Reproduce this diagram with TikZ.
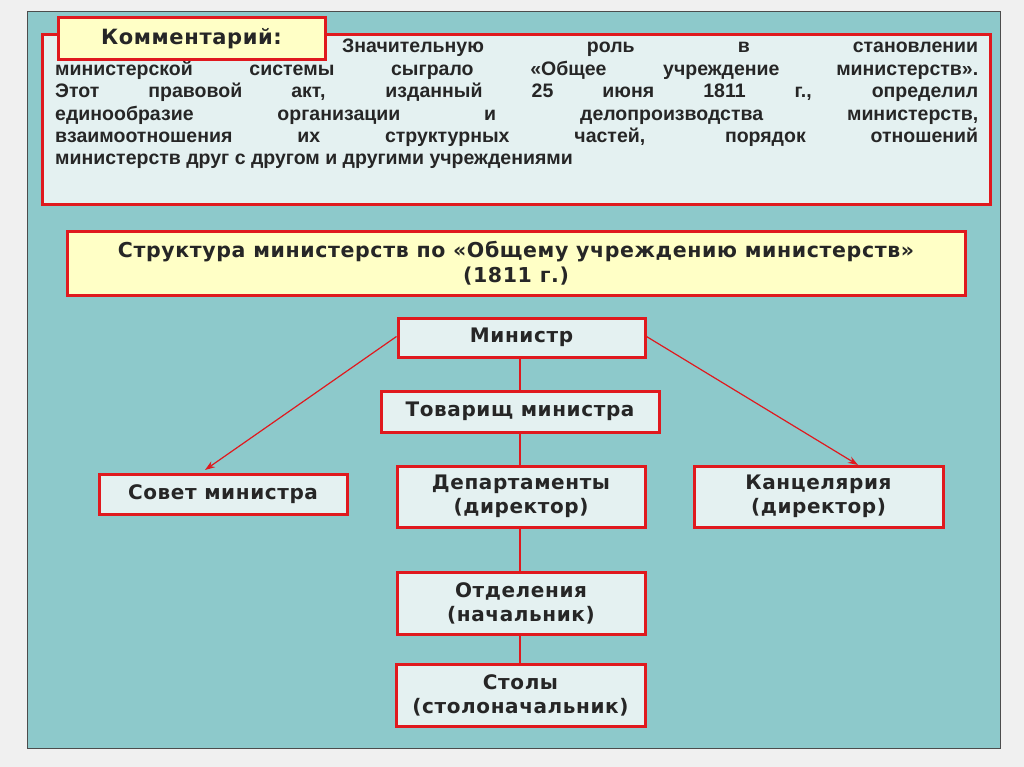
\documentclass[tikz,border=0pt]{standalone}
\usepackage{fontspec}
\setmainfont{Liberation Sans}
\newfontfamily\widefont{DejaVu Sans}[LetterSpace=3]
\usetikzlibrary{arrows.meta}
\definecolor{teal}{HTML}{8DC9CB}
\definecolor{boxfill}{HTML}{E4F1F1}
\definecolor{ylw}{HTML}{FFFFC6}
\definecolor{rd}{HTML}{E0191E}
\tikzset{
  box/.style={draw=rd,line width=3pt,fill=boxfill,align=center,font=\widefont\fontsize{20}{24}\selectfont\bfseries,text=black!85},
  link/.style={draw=rd,line width=2pt},
  arr/.style={draw=rd,line width=1.2pt,-{Stealth[length=10pt,width=7pt]}}
}
\begin{document}
\begin{tikzpicture}[x=1pt,y=-1pt]
\useasboundingbox (0,0) rectangle (1024,767);
\fill[black!6] (0,0) rectangle (1024,767);
\draw[fill=teal,draw=black!70,line width=1pt] (27,12) rectangle (1000,748);
% comment box
\draw[draw=rd,line width=3pt,fill=boxfill] (42,35) rectangle (990,205);
\node[anchor=north west,inner sep=0pt,text width=923pt,align=justify,font=\fontsize{19.5}{22.4}\selectfont\bfseries,text=black!85] (ctext) at (55,39)
{\hspace*{287pt}Значительную роль в становлении\linebreak министерской системы сыграло «Общее учреждение министерств».\linebreak Этот правовой акт, изданный 25 июня 1811 г., определил\linebreak единообразие организации и делопроизводства министерств,\linebreak взаимоотношения их структурных частей, порядок отношений\linebreak министерств друг с другом и другими учреждениями};
\draw[draw=rd,line width=3pt,fill=ylw] (58,18) rectangle (325,60);
\node[font=\widefont\fontsize{21}{25}\selectfont\bfseries,text=black!85] (clabel) at (191.5,39) {Комментарий:};
% title
\node[draw=rd,line width=3pt,fill=ylw,minimum width=898pt,minimum height=63pt,align=center,font=\widefont\fontsize{20.5}{25}\selectfont\bfseries,text=black!85] (title) at (516,263.5) {Структура министерств по «Общему учреждению министерств»\\(1811 г.)};
% nodes
\node[box,minimum width=247pt,minimum height=39pt] (min) at (521.5,337.5) {Министр};
\node[box,minimum width=278pt,minimum height=41pt] (tov) at (520,411.5) {Товарищ министра};
\node[box,minimum width=248pt,minimum height=40pt] (sov) at (223,494) {Совет министра};
\node[box,minimum width=248pt,minimum height=61pt] (dep) at (521,496.5) {Департаменты\\(директор)};
\node[box,minimum width=249pt,minimum height=61pt] (kan) at (818.5,496.5) {Канцелярия\\(директор)};
\node[box,minimum width=248pt,minimum height=62pt] (otd) at (521,603) {Отделения\\(начальник)};
\node[box,minimum width=249pt,minimum height=62pt] (sto) at (520.5,695) {Столы\\(столоначальник)};
% links
\draw[link] (min.south -| 520,0) -- (tov.north -| 520,0);
\draw[link] (tov.south -| 520,0) -- (dep.north -| 520,0);
\draw[link] (dep.south -| 520,0) -- (otd.north -| 520,0);
\draw[link] (otd.south -| 520,0) -- (sto.north -| 520,0);
\draw[arr] ([yshift=1pt]min.west) -- (205,470);
\draw[arr] ([yshift=1pt]min.east) -- (858,465);
\end{tikzpicture}
\end{document}
